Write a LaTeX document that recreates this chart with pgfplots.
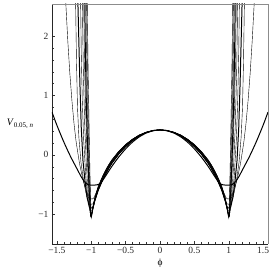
\documentclass[border=0pt]{standalone}
\usepackage{fontspec}
\setmainfont{Liberation Serif}
\usepackage{pgfplots}
\pgfplotsset{compat=1.18}
\begin{document}
\begin{tikzpicture}
\begin{axis}[
  scale only axis, width=216bp, height=240bp,
  xmin=-1.5708, xmax=1.5708, ymin=-1.5, ymax=2.54,
  axis lines*=left,
  axis line style={line width=0.6pt, black!85},
  xtick={-1.5,-1,-0.5,0,0.5,1,1.5},
  xticklabels={−1.5,−1,−0.5,0,0.5,1,1.5},
  ytick={-1,0,1,2},
  yticklabels={−1,0,1,2},
  minor x tick num=4, minor y tick num=4,
  tick align=inside,
  major tick length=3bp, minor tick length=1.6bp,
  tick style={black!80, line width=0.4pt},
  tick label style={font=\fontsize{9.5}{10}\selectfont, text=black!85},
  xlabel={ϕ},
  xlabel style={at={(axis description cs:0.5,0)}, anchor=center, yshift=-19bp, font=\fontsize{9.5}{10}\selectfont},
  ylabel={\textit{V}\raisebox{-0.45ex}{\fontsize{7}{7}\selectfont 0.05, \textit{n}}},
  ylabel style={at={(axis description cs:0,0.5)}, anchor=center, rotate=-90, font=\fontsize{10}{11}\selectfont},
  every axis y label/.append style={xshift=-32bp},
  cycle list={{black, no markers, solid, line width=1.0pt}},
]
% n = 1
\addplot[black, no markers, line width=1.0pt, smooth, tension=0.4] coordinates {(-1.5708,0.72)(-1.5,0.5)(-1.4,0.22)(-1.3,-0.03)(-1.2,-0.25)(-1.15,-0.36)(-1.1,-0.45)(-1.05,-0.5)(-1.0,-0.51)(-0.92,-0.505)(-0.88,-0.49)(-0.85,-0.455)(-0.8,-0.371)(-0.7,-0.193)(-0.6,-0.035)(-0.5,0.101)(-0.4,0.215)(-0.3,0.304)(-0.2,0.368)(-0.1,0.407)(0,0.42)(0.1,0.407)(0.2,0.368)(0.3,0.304)(0.4,0.215)(0.5,0.101)(0.6,-0.035)(0.7,-0.193)(0.8,-0.371)(0.85,-0.455)(0.88,-0.49)(0.92,-0.505)(1.0,-0.51)(1.05,-0.5)(1.1,-0.45)(1.15,-0.36)(1.2,-0.25)(1.3,-0.03)(1.4,0.22)(1.5,0.5)(1.5708,0.72)};
% n = 2
\addplot coordinates {(-1.39,3.0)(-1.37,2.55)(-1.34,1.9)(-1.31,1.35)(-1.28,0.9)(-1.25,0.52)(-1.22,0.22)(-1.17,-0.15)(-1.12,-0.42)(-1.07,-0.62)(-1.03,-0.74)(-0.98,-0.74)(-0.96,-0.72)(-0.93,-0.64)(-0.9,-0.54)(-0.85,-0.40)(-0.8,-0.28)(-0.75,-0.175)(-0.7,-0.085)(-0.6,0.06)(-0.5,0.175)(-0.4,0.265)(-0.3,0.335)(-0.2,0.38)(-0.1,0.41)(0,0.42)(0.1,0.41)(0.2,0.38)(0.3,0.335)(0.4,0.265)(0.5,0.175)(0.6,0.06)(0.7,-0.085)(0.75,-0.175)(0.8,-0.28)(0.85,-0.40)(0.9,-0.54)(0.93,-0.64)(0.96,-0.72)(0.98,-0.74)(1.03,-0.74)(1.07,-0.62)(1.12,-0.42)(1.17,-0.15)(1.22,0.22)(1.25,0.52)(1.28,0.9)(1.31,1.35)(1.34,1.9)(1.37,2.55)(1.39,3.0)};
% n = 3
\addplot coordinates {(-1.24,3.2)(-1.228,2.6)(-1.215,1.6)(-1.2,0.8)(-1.18,0.3)(-1.15,-0.12)(-1.11,-0.45)(-1.07,-0.68)(-1.03,-0.83)(-0.99,-0.83)(-0.97,-0.82)(-0.95,-0.76)(-0.9,-0.57)(-0.85,-0.43)(-0.8,-0.31)(-0.75,-0.2)(-0.7,-0.11)(-0.6,0.04)(-0.5,0.16)(-0.4,0.255)(-0.3,0.33)(-0.2,0.38)(-0.1,0.41)(0,0.42)(0.1,0.41)(0.2,0.38)(0.3,0.33)(0.4,0.255)(0.5,0.16)(0.6,0.04)(0.7,-0.11)(0.75,-0.2)(0.8,-0.31)(0.85,-0.43)(0.9,-0.57)(0.95,-0.76)(0.97,-0.82)(0.99,-0.83)(1.03,-0.83)(1.07,-0.68)(1.11,-0.45)(1.15,-0.12)(1.18,0.3)(1.2,0.8)(1.215,1.6)(1.228,2.6)(1.24,3.2)};
% n = 4
\addplot coordinates {(-1.205,3.1)(-1.195,2.6)(-1.18,1.9)(-1.165,1.2)(-1.145,0.45)(-1.12,-0.1)(-1.09,-0.45)(-1.06,-0.72)(-1.025,-0.89)(-0.985,-0.89)(-0.97,-0.87)(-0.95,-0.78)(-0.9,-0.6)(-0.85,-0.465)(-0.8,-0.345)(-0.75,-0.235)(-0.7,-0.14)(-0.6,0.015)(-0.5,0.14)(-0.4,0.24)(-0.3,0.32)(-0.2,0.375)(-0.1,0.41)(0,0.42)(0.1,0.41)(0.2,0.375)(0.3,0.32)(0.4,0.24)(0.5,0.14)(0.6,0.015)(0.7,-0.14)(0.75,-0.235)(0.8,-0.345)(0.85,-0.465)(0.9,-0.6)(0.95,-0.78)(0.97,-0.87)(0.985,-0.89)(1.025,-0.89)(1.06,-0.72)(1.09,-0.45)(1.12,-0.1)(1.145,0.45)(1.165,1.2)(1.18,1.9)(1.195,2.6)(1.205,3.1)};
% n = 5
\addplot coordinates {(-1.162,3.1)(-1.155,2.6)(-1.145,1.7)(-1.13,0.9)(-1.11,0.25)(-1.08,-0.35)(-1.05,-0.72)(-1.02,-0.94)(-0.99,-0.94)(-0.975,-0.87)(-0.95,-0.73)(-0.9,-0.54)(-0.85,-0.40)(-0.8,-0.28)(-0.75,-0.175)(-0.7,-0.085)(-0.6,0.06)(-0.5,0.175)(-0.4,0.265)(-0.3,0.335)(-0.2,0.38)(-0.1,0.41)(0,0.42)(0.1,0.41)(0.2,0.38)(0.3,0.335)(0.4,0.265)(0.5,0.175)(0.6,0.06)(0.7,-0.085)(0.75,-0.175)(0.8,-0.28)(0.85,-0.40)(0.9,-0.54)(0.95,-0.73)(0.975,-0.87)(0.99,-0.94)(1.02,-0.94)(1.05,-0.72)(1.08,-0.35)(1.11,0.25)(1.13,0.9)(1.145,1.7)(1.155,2.6)(1.162,3.1)};
% n = 6
\addplot coordinates {(-1.137,3.1)(-1.13,2.6)(-1.115,1.4)(-1.095,0.5)(-1.07,-0.2)(-1.04,-0.7)(-1.015,-0.98)(-0.995,-0.98)(-0.99,-0.97)(-0.975,-0.89)(-0.95,-0.76)(-0.9,-0.57)(-0.85,-0.43)(-0.8,-0.31)(-0.75,-0.2)(-0.7,-0.11)(-0.6,0.04)(-0.5,0.16)(-0.4,0.255)(-0.3,0.33)(-0.2,0.38)(-0.1,0.41)(0,0.42)(0.1,0.41)(0.2,0.38)(0.3,0.33)(0.4,0.255)(0.5,0.16)(0.6,0.04)(0.7,-0.11)(0.75,-0.2)(0.8,-0.31)(0.85,-0.43)(0.9,-0.57)(0.95,-0.76)(0.975,-0.89)(0.99,-0.97)(0.995,-0.98)(1.015,-0.98)(1.04,-0.7)(1.07,-0.2)(1.095,0.5)(1.115,1.4)(1.13,2.6)(1.137,3.1)};
% n = 7
\addplot coordinates {(-1.116,3.1)(-1.11,2.6)(-1.1,1.7)(-1.085,0.9)(-1.06,0.0)(-1.035,-0.6)(-1.01,-1.01)(-0.995,-1.01)(-0.975,-0.91)(-0.95,-0.78)(-0.9,-0.6)(-0.85,-0.465)(-0.8,-0.345)(-0.75,-0.235)(-0.7,-0.14)(-0.6,0.015)(-0.5,0.14)(-0.4,0.24)(-0.3,0.32)(-0.2,0.375)(-0.1,0.41)(0,0.42)(0.1,0.41)(0.2,0.375)(0.3,0.32)(0.4,0.24)(0.5,0.14)(0.6,0.015)(0.7,-0.14)(0.75,-0.235)(0.8,-0.345)(0.85,-0.465)(0.9,-0.6)(0.95,-0.78)(0.975,-0.91)(0.995,-1.01)(1.01,-1.01)(1.035,-0.6)(1.06,0.0)(1.085,0.9)(1.1,1.7)(1.11,2.6)(1.116,3.1)};
% n = 8
\addplot coordinates {(-1.101,3.1)(-1.095,2.6)(-1.085,1.7)(-1.07,0.8)(-1.05,0.0)(-1.03,-0.6)(-1.008,-1.03)(-0.997,-1.03)(-0.975,-0.89)(-0.95,-0.76)(-0.9,-0.57)(-0.85,-0.43)(-0.8,-0.31)(-0.75,-0.2)(-0.7,-0.11)(-0.6,0.04)(-0.5,0.16)(-0.4,0.255)(-0.3,0.33)(-0.2,0.38)(-0.1,0.41)(0,0.42)(0.1,0.41)(0.2,0.38)(0.3,0.33)(0.4,0.255)(0.5,0.16)(0.6,0.04)(0.7,-0.11)(0.75,-0.2)(0.8,-0.31)(0.85,-0.43)(0.9,-0.57)(0.95,-0.76)(0.975,-0.89)(0.997,-1.03)(1.008,-1.03)(1.03,-0.6)(1.05,0.0)(1.07,0.8)(1.085,1.7)(1.095,2.6)(1.101,3.1)};
% n = 9
\addplot coordinates {(-1.086,3.1)(-1.08,2.6)(-1.065,1.3)(-1.045,0.2)(-1.025,-0.55)(-1.005,-1.045)(-1.0,-1.045)(-0.975,-0.88)(-0.95,-0.73)(-0.9,-0.54)(-0.85,-0.40)(-0.8,-0.28)(-0.75,-0.175)(-0.7,-0.085)(-0.6,0.06)(-0.5,0.175)(-0.4,0.265)(-0.3,0.335)(-0.2,0.38)(-0.1,0.41)(0,0.42)(0.1,0.41)(0.2,0.38)(0.3,0.335)(0.4,0.265)(0.5,0.175)(0.6,0.06)(0.7,-0.085)(0.75,-0.175)(0.8,-0.28)(0.85,-0.40)(0.9,-0.54)(0.95,-0.73)(0.975,-0.88)(1.0,-1.045)(1.005,-1.045)(1.025,-0.55)(1.045,0.2)(1.065,1.3)(1.08,2.6)(1.086,3.1)};
% n = 10
\addplot coordinates {(-1.073,3.1)(-1.068,2.6)(-1.055,1.4)(-1.04,0.4)(-1.02,-0.5)(-1.003,-1.055)(-1.0,-1.055)(-0.975,-0.89)(-0.95,-0.76)(-0.9,-0.57)(-0.85,-0.43)(-0.8,-0.31)(-0.75,-0.2)(-0.7,-0.11)(-0.6,0.04)(-0.5,0.16)(-0.4,0.255)(-0.3,0.33)(-0.2,0.38)(-0.1,0.41)(0,0.42)(0.1,0.41)(0.2,0.38)(0.3,0.33)(0.4,0.255)(0.5,0.16)(0.6,0.04)(0.7,-0.11)(0.75,-0.2)(0.8,-0.31)(0.85,-0.43)(0.9,-0.57)(0.95,-0.76)(0.975,-0.89)(1.0,-1.055)(1.003,-1.055)(1.02,-0.5)(1.04,0.4)(1.055,1.4)(1.068,2.6)(1.073,3.1)};
% n = 11
\addplot coordinates {(-1.063,3.1)(-1.058,2.6)(-1.045,1.4)(-1.03,0.4)(-1.015,-0.5)(-1.0,-1.06)(-0.975,-0.91)(-0.95,-0.78)(-0.9,-0.6)(-0.85,-0.465)(-0.8,-0.345)(-0.75,-0.235)(-0.7,-0.14)(-0.6,0.015)(-0.5,0.14)(-0.4,0.24)(-0.3,0.32)(-0.2,0.375)(-0.1,0.41)(0,0.42)(0.1,0.41)(0.2,0.375)(0.3,0.32)(0.4,0.24)(0.5,0.14)(0.6,0.015)(0.7,-0.14)(0.75,-0.235)(0.8,-0.345)(0.85,-0.465)(0.9,-0.6)(0.95,-0.78)(0.975,-0.91)(1.0,-1.06)(1.015,-0.5)(1.03,0.4)(1.045,1.4)(1.058,2.6)(1.063,3.1)};
\coordinate (sw) at (rel axis cs:0,0);
\coordinate (ne) at (rel axis cs:1,1);
\end{axis}
\draw[black!45, line width=0.4pt] (sw|-ne) -- (ne) -- (ne|-sw);
\pgfresetboundingbox
\path ([xshift=-52bp,yshift=-29bp]sw) rectangle ([xshift=5bp,yshift=4bp]ne);
\end{tikzpicture}
\end{document}
